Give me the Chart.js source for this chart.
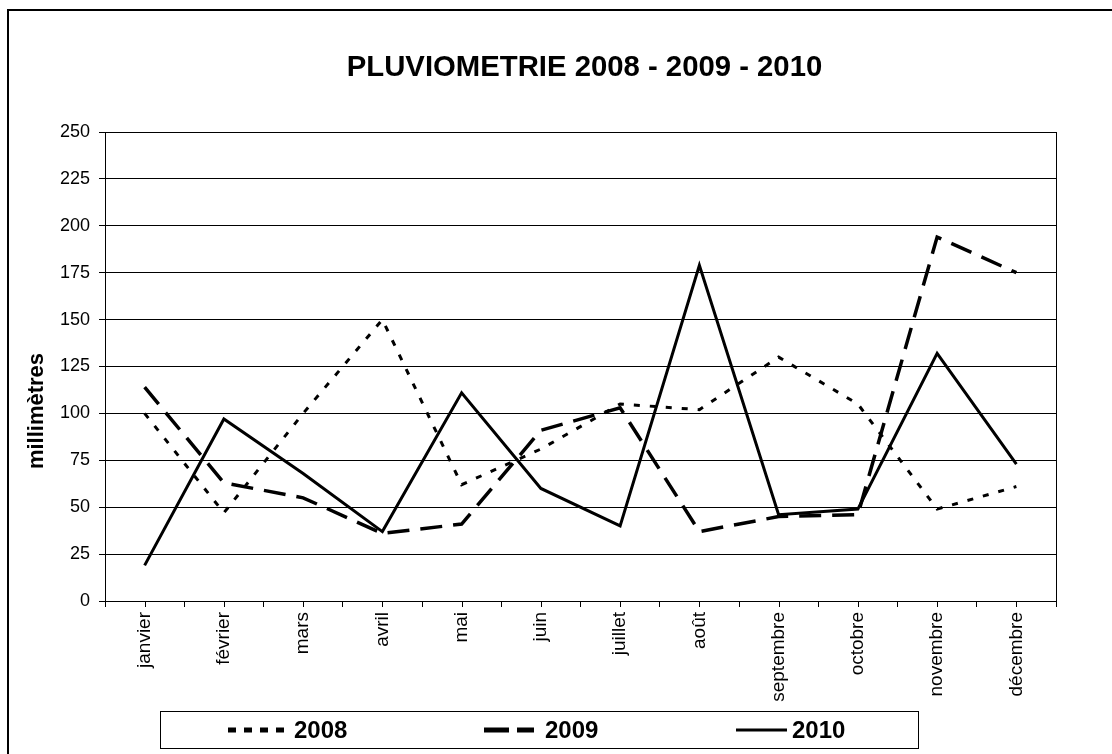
<!DOCTYPE html>
<html>
<head>
<meta charset="utf-8">
<script src="https://cdn.jsdelivr.net/npm/chart.js@4/dist/chart.umd.min.js"></script>
<style>
  html, body { margin: 0; padding: 0; background: #ffffff; }
  #c { display: block; }
</style>
</head>
<body>
<canvas id="c" width="1112" height="754"></canvas>
<script>
const months = ['janvier','février','mars','avril','mai','juin','juillet','août','septembre','octobre','novembre','décembre'];
const rain2008 = [100, 47, 100, 150, 62, 81, 105, 102, 130, 105, 49, 61];
const rain2009 = [114, 63, 55, 36, 41, 91, 103, 37, 45, 46, 194, 175];
const rain2010 = [19, 97, 68, 37, 111, 60, 40, 179, 46, 49, 132, 73];
const yTicks = [0, 25, 50, 75, 100, 125, 150, 175, 200, 225, 250];
const titleText = 'PLUVIOMETRIE 2008 - 2009 - 2010';
const yTitleText = 'millimètres';
const seriesNames = ['2008', '2009', '2010'];

const FONT = '"Liberation Sans", Arial, sans-serif';

// legend sample styles (legend swatches are drawn thicker, as in the original)
const legendStyles = [
  { width: 5, dash: [8, 8], len: 56 },
  { width: 5, dash: [25, 8], len: 50 },
  { width: 3, dash: [], len: 51 }
];

const decor = {
  id: 'decor',
  beforeDraw(chart) {
    const ctx = chart.ctx;
    ctx.save();
    ctx.fillStyle = '#ffffff';
    ctx.fillRect(0, 0, chart.width, chart.height);
    ctx.restore();
  },
  afterDraw(chart) {
    const ctx = chart.ctx;
    const a = chart.chartArea;
    const xs = chart.scales.x;
    ctx.save();
    // outer border
    ctx.strokeStyle = '#000';
    ctx.lineWidth = 2;
    ctx.strokeRect(8, 10, chart.width + 20, chart.height + 20);
    // plot border
    ctx.lineWidth = 1;
    ctx.strokeRect(Math.round(a.left) + 0.5, Math.round(a.top) + 0.5, Math.round(a.right - a.left), Math.round(a.bottom - a.top));
    // center ticks on x axis
    ctx.beginPath();
    for (let i = 0; i < months.length; i++) {
      const px = Math.round(xs.getPixelForValue(i)) + 0.5;
      ctx.moveTo(px, a.bottom);
      ctx.lineTo(px, a.bottom + 6);
    }
    ctx.stroke();
    // title
    ctx.fillStyle = '#000';
    ctx.font = 'bold 29.3px ' + FONT;
    ctx.textAlign = 'center';
    ctx.textBaseline = 'alphabetic';
    ctx.fillText(titleText, 584.5, 76);
    // y title
    ctx.save();
    ctx.translate(43, 411);
    ctx.rotate(-Math.PI / 2);
    ctx.font = 'bold 22px ' + FONT;
    ctx.textAlign = 'center';
    ctx.textBaseline = 'alphabetic';
    ctx.fillText(yTitleText, 0, 0);
    ctx.restore();
    // legend
    const lx = 160.5, ly = 711.5, lw = 758, lh = 37;
    ctx.lineWidth = 1;
    ctx.strokeStyle = '#000';
    ctx.strokeRect(lx, ly, lw, lh);
    const starts = [228, 484, 736];
    const textX = [294, 545, 792];
    const midY = ly + lh / 2;
    chart.data.datasets.forEach((ds, i) => {
      const st = legendStyles[i];
      ctx.save();
      ctx.strokeStyle = ds.borderColor;
      ctx.lineWidth = st.width;
      ctx.setLineDash(st.dash);
      ctx.beginPath();
      ctx.moveTo(starts[i], midY);
      ctx.lineTo(starts[i] + st.len, midY);
      ctx.stroke();
      ctx.restore();
      ctx.font = 'bold 24px ' + FONT;
      ctx.textAlign = 'left';
      ctx.textBaseline = 'middle';
      ctx.fillStyle = '#000';
      ctx.fillText(ds.label, textX[i], midY + 1);
    });
    ctx.restore();
  }
};

new Chart(document.getElementById('c'), {
  type: 'line',
  data: {
    labels: months,
    datasets: [
      { label: seriesNames[0], data: rain2008, borderColor: '#000', borderWidth: 3, borderDash: [6, 10], pointRadius: 0, fill: false, tension: 0 },
      { label: seriesNames[1], data: rain2009, borderColor: '#000', borderWidth: 3.5, borderDash: [22, 11], pointRadius: 0, fill: false, tension: 0 },
      { label: seriesNames[2], data: rain2010, borderColor: '#000', borderWidth: 3, pointRadius: 0, fill: false, tension: 0 }
    ]
  },
  options: {
    responsive: false,
    animation: false,
    devicePixelRatio: 1,
    layout: { padding: { left: 0, top: 132, right: 56, bottom: 0 } },
    plugins: {
      legend: { display: false },
      title: { display: false },
      tooltip: { enabled: false }
    },
    scales: {
      x: {
        type: 'category',
        offset: true,
        afterFit(scale) { scale.height = 153; },
        grid: { display: true, drawOnChartArea: false, drawTicks: true, tickLength: 6, color: '#000', offset: true },
        border: { display: true, color: '#000', width: 1 },
        ticks: { color: '#000', font: { family: FONT, size: 19 }, maxRotation: 90, minRotation: 90, padding: 5, autoSkip: false }
      },
      y: {
        min: 0,
        max: 250,
        afterFit(scale) { scale.width = 105; },
        afterBuildTicks(scale) { scale.ticks = yTicks.map(v => ({ value: v })); },
        grid: { color: '#000', lineWidth: 1, drawTicks: true, tickLength: 6 },
        border: { display: true, color: '#000', width: 1 },
        ticks: { color: '#000', font: { family: FONT, size: 18 }, padding: 9 }
      }
    }
  },
  plugins: [decor]
});
</script>
</body>
</html>
